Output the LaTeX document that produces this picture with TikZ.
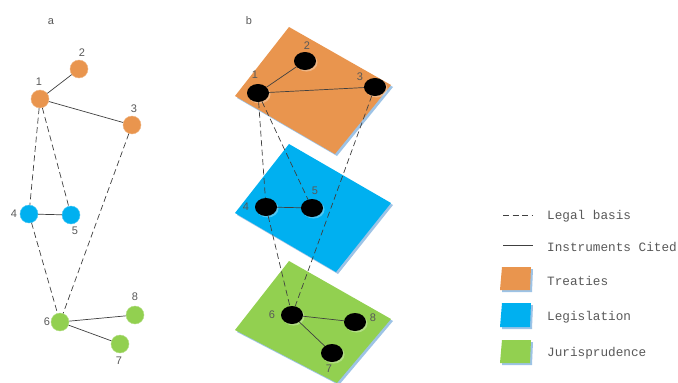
\documentclass[tikz,border=0pt]{standalone}
\usepackage{fontspec}
\setmainfont{Liberation Sans}
\setmonofont{Liberation Mono}
\usetikzlibrary{shapes.geometric,shadows}

\definecolor{treaty}{HTML}{E9954E}
\definecolor{legis}{HTML}{00B0F0}
\definecolor{juris}{HTML}{92D050}
\definecolor{plshadow}{HTML}{9DC3E6}
\definecolor{txtgray}{HTML}{595959}
\definecolor{linegray}{HTML}{404040}

\tikzset{
    circnode/.style={
           circle,
           minimum size=18pt,
           inner sep=0pt,
           draw=#1!70!white, thin,
           fill=#1,
           },
    blob/.style={
           ellipse,
           minimum width=22pt,
           minimum height=18pt,
           inner sep=0pt,
           fill=black,
           drop shadow={shadow xshift=1.5pt, shadow yshift=-1.5pt, fill=white, opacity=0.3},
           },
    num/.style={
           text=txtgray,
           font=\fontsize{11}{13}\selectfont,
           inner sep=0pt,
           },
    cited/.style={draw=linegray, line width=0.7pt},
    basis/.style={draw=linegray, line width=0.7pt, dash pattern=on 6pt off 3.5pt},
    legtext/.style={
           text=txtgray,
           font=\ttfamily\fontsize{12.7}{14}\selectfont,
           anchor=west,
           inner sep=0pt,
           },
    plane/.style={fill=#1},
}

\begin{document}
\begin{tikzpicture}[x=1pt,y=-1pt]
    \useasboundingbox[fill=white] (0,0) rectangle (678,383);

    % PANEL A
    \node[num] (lbl_a) at (51,22) {a};
    \node[circnode=treaty] (A1) at (40,99) {};
    \node[circnode=treaty] (A2) at (79,69) {};
    \node[circnode=treaty] (A3) at (132,125) {};
    \node[circnode=legis] (A4) at (29,214) {};
    \node[circnode=legis] (A5) at (71,215) {};
    \node[circnode=juris] (A6) at (60,322) {};
    \node[circnode=juris] (A7) at (120,344) {};
    \node[circnode=juris] (A8) at (135,315) {};
    % numbers
    \node[num] (A1_n) at (39,82) {1};
    \node[num] (A2_n) at (82,53) {2};
    \node[num] (A3_n) at (134,109) {3};
    \node[num] (A4_n) at (14,214) {4};
    \node[num] (A5_n) at (75,231) {5};
    \node[num] (A6_n) at (47,322) {6};
    \node[num] (A7_n) at (119,361) {7};
    \node[num] (A8_n) at (135,297) {8};

    \path
        (A1) edge[cited] (A2)
        (A1) edge[cited] (A3)
        (A4) edge[cited] (A5)
        (A6) edge[cited] (A8)
        (A6) edge[cited] (A7)
        (A1) edge[basis] (A4)
        (A1) edge[basis] (A5)
        (A3) edge[basis] (A6)
        (A4) edge[basis] (A6)
        ;

    % PANEL B
    \node[font=\ttfamily\fontsize{11}{13}\selectfont, text=txtgray, inner sep=0pt] (lbl_b) at (249,21) {b};
    % planes with their shadow
    \fill[plshadow] (291,29) -- (393,87) -- (337,156) -- (237,98) -- cycle;
    \fill[plane=treaty] (289,27) -- (391,85) -- (335,154) -- (235,96) -- cycle;
    \fill[plshadow] (291,146) -- (393,205) -- (338,274) -- (237,215) -- cycle;
    \fill[plane=legis] (289,144) -- (391,203) -- (336,272) -- (235,213) -- cycle;
    \fill[plshadow] (291,263) -- (393,321) -- (339,385) -- (237,332) -- cycle;
    \fill[plane=juris] (289,261) -- (391,319) -- (337,383) -- (235,330) -- cycle;

    \node[blob] (B1) at (258,93) {};
    \node[blob] (B2) at (305,61) {};
    \node[blob] (B3) at (375,87) {};
    \node[blob] (B4) at (266,207) {};
    \node[blob] (B5) at (312,208) {};
    \node[blob] (B6) at (292,315) {};
    \node[blob] (B7) at (332,353) {};
    \node[blob] (B8) at (355,322) {};
    % numbers
    \node[num] (B1_n) at (255,75) {1};
    \node[num] (B2_n) at (307,46) {2};
    \node[num] (B3_n) at (360,77) {3};
    \node[num] (B4_n) at (246,207) {4};
    \node[num] (B5_n) at (315,191) {5};
    \node[num] (B6_n) at (272,315) {6};
    \node[num] (B7_n) at (329,369) {7};
    \node[num] (B8_n) at (373,318) {8};

    \path
        (B1) edge[cited] (B2)
        (B1) edge[cited] (B3)
        (B4) edge[cited] (B5)
        (B6) edge[cited] (B8)
        (B6) edge[cited] (B7)
        (B1) edge[basis] (B4)
        (B1) edge[basis] (B5)
        (B3) edge[basis] (B6)
        (B4) edge[basis] (B6)
        ;

    % LEGEND
    \coordinate (LB_a) at (503,215);
    \coordinate (LB_b) at (533,215);
    \coordinate (IC_a) at (503,245);
    \coordinate (IC_b) at (533,245);
    \draw[basis] (LB_a) -- (LB_b);
    \draw[cited] (IC_a) -- (IC_b);
    \node[legtext] (LB_t) at (547,216) {Legal basis};
    \node[legtext] (IC_t) at (547,247) {Instruments Cited};

    \fill[plshadow] (504,269) -- (533,269) -- (532,292) -- (502,292) -- cycle;
    \fill[plane=treaty] (502,267) -- (531,267) -- (530,290) -- (500,290) -- cycle;
    \fill[plshadow] (504,305) -- (533,305) -- (532,329) -- (502,329) -- cycle;
    \fill[plane=legis] (502,303) -- (531,303) -- (530,327) -- (500,327) -- cycle;
    \fill[plshadow] (504,342) -- (533,342) -- (532,365) -- (502,365) -- cycle;
    \fill[plane=juris] (502,340) -- (531,340) -- (530,363) -- (500,363) -- cycle;
    \node[legtext] (TR_t) at (547,281) {Treaties};
    \node[legtext] (LE_t) at (547,317) {Legislation};
    \node[legtext] (JU_t) at (547,353) {Jurisprudence};
\end{tikzpicture}
\end{document}
